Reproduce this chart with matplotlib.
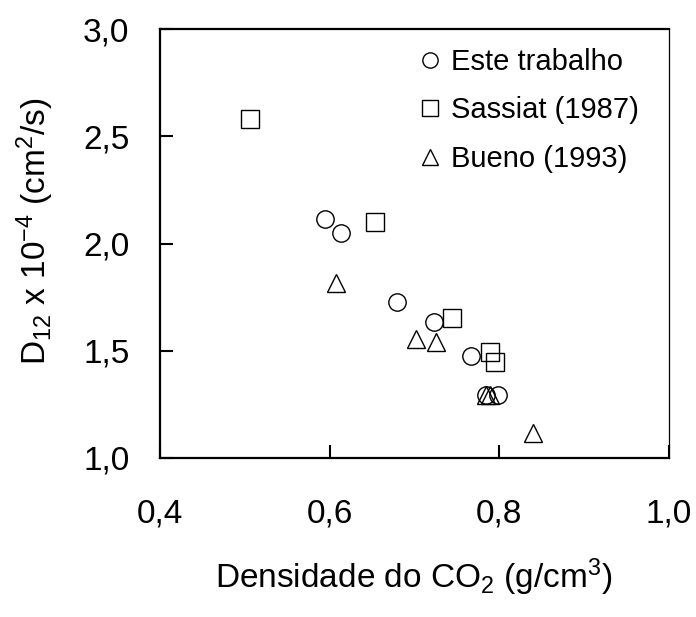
import matplotlib
matplotlib.use("Agg")
import matplotlib.pyplot as plt

plt.rcParams['font.family'] = ['Liberation Sans', 'DejaVu Sans']
plt.rcParams['mathtext.default'] = 'regular'

# Coeficiente de difusao vs densidade do CO2
este_dens = [0.594, 0.613, 0.679, 0.723, 0.767, 0.784, 0.799]
este_d12 = [2.113, 2.050, 1.727, 1.634, 1.477, 1.292, 1.292]

sassiat_dens = [0.506, 0.653, 0.744, 0.789, 0.795]
sassiat_d12 = [2.580, 2.102, 1.654, 1.493, 1.449]

bueno_dens = [0.607, 0.702, 0.725, 0.784, 0.789, 0.840]
bueno_d12 = [1.814, 1.555, 1.539, 1.292, 1.292, 1.115]

x_ticks = [0.4, 0.6, 0.8, 1.0]
y_ticks = [1.0, 1.5, 2.0, 2.5, 3.0]

fig = plt.figure(figsize=(6.96, 6.17), dpi=100)
ax = fig.add_axes([160 / 696, 1 - 458 / 617, 509 / 696, 429 / 617])

mk = dict(ls='none', mfc='none', mec='black', mew=1.0, ms=12.5)
ax.plot(este_dens, este_d12, marker='o', label='Este trabalho', **mk)
ax.plot(sassiat_dens, sassiat_d12, marker='s', label='Sassiat (1987)', **mk)
ax.plot(bueno_dens, bueno_d12, marker='^', label='Bueno (1993)', **mk)

ax.set_xlim(0.4, 1.0)
ax.set_ylim(1.0, 3.0)
ax.set_xticks(x_ticks)
ax.set_yticks(y_ticks)
ax.set_xticklabels([f"{v:.1f}".replace('.', ',') for v in x_ticks])
ax.set_yticklabels([f"{v:.1f}".replace('.', ',') for v in y_ticks])
ax.tick_params(axis='both', direction='in', length=9.5, width=1.5,
               labelsize=24, color='black')
ax.tick_params(axis='x', pad=29)
ax.tick_params(axis='y', pad=22)

for side in ['left', 'bottom', 'top']:
    ax.spines[side].set_linewidth(1.6)
ax.spines['right'].set_linewidth(0.9)

fig.text(414 / 696, 1 - 577 / 617, r'Densidade do CO$_2$ (g/cm$^3$)',
         ha='center', va='center', fontsize=24)
fig.text(35 / 696, 1 - 231 / 617, r'D$_{12}$ x 10$^{-4}$ (cm$^2$/s)',
         ha='center', va='center', rotation=90, fontsize=24)

ax.legend(loc='upper left', bbox_to_anchor=((422 - 160) / 509, (458 - 48) / 429),
          frameon=False, fontsize=21, markerscale=0.88, handlelength=0.55,
          handletextpad=0.45, labelspacing=0.7, borderpad=0, borderaxespad=0,
          numpoints=1)

fig.savefig('out.png', dpi=100)
